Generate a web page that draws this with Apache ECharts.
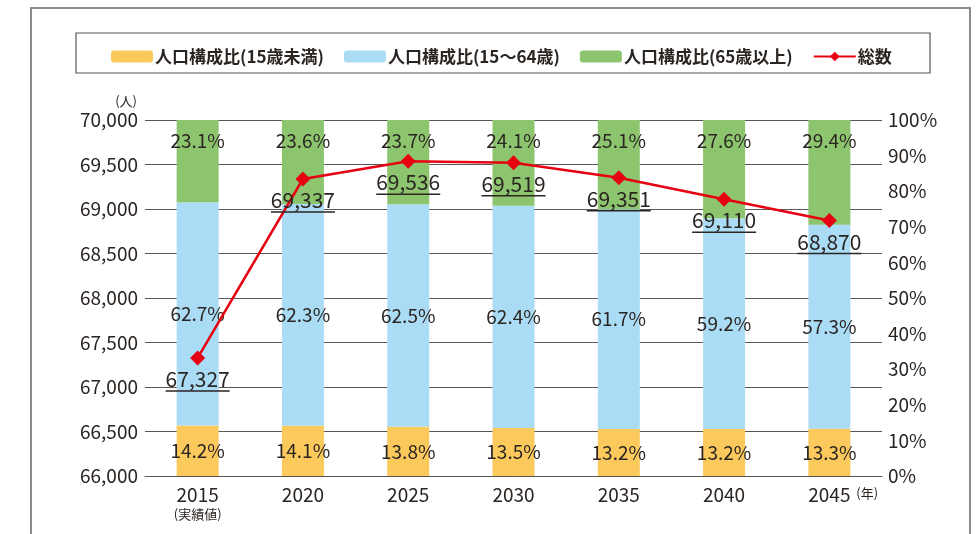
<!DOCTYPE html>
<html>
<head>
<meta charset="utf-8">
<script src="https://cdn.jsdelivr.net/npm/echarts@6/dist/echarts.min.js"></script>
<style>
  html, body { margin: 0; padding: 0; background: #fff; }
  #chart { width: 979px; height: 534px; }
</style>
</head>
<body>
<div id="chart"></div>
<script>
var years = ['2015', '2020', '2025', '2030', '2035', '2040', '2045'];
var under15 = [14.2, 14.1, 13.8, 13.5, 13.2, 13.2, 13.3];
var age15to64 = [62.7, 62.3, 62.5, 62.4, 61.7, 59.2, 57.3];
var over65 = [23.1, 23.6, 23.7, 24.1, 25.1, 27.6, 29.4];
var total = [67327, 69337, 69536, 69519, 69351, 69110, 68870];

var font = '"Noto Sans CJK JP", "Noto Sans", sans-serif';
var txt = '#2b2522';

function comma(v) {
    return String(v).replace(/\B(?=(\d{3})+(?!\d))/g, ',');
}

function pctLabel(pos, dist) {
    return {
        show: true,
        position: pos,
        distance: dist,
        fontFamily: font,
        fontSize: 19,
        color: txt,
        formatter: function (p) { return p.value.toFixed(1) + '%'; }
    };
}

var myChart = echarts.init(document.getElementById('chart'));
myChart.setOption({
    animation: false,
    textStyle: { fontFamily: font },
    graphic: [
        {
            type: 'polyline',
            shape: { points: [[31, 534], [31, 8], [970, 8], [970, 534]] },
            style: { stroke: '#8c8a8a', lineWidth: 2, fill: null }
        },
        {
            type: 'rect',
            shape: { x: 76, y: 33, width: 854, height: 40 },
            style: { stroke: '#555', lineWidth: 1.2, fill: null }
        }
    ],
    legend: {
        left: 106,
        top: 43,
        itemWidth: 42,
        itemHeight: 12,
        itemGap: 20,
        textStyle: { fontFamily: font, fontSize: 17, fontWeight: 'bold', color: txt, padding: [0, 0, 0, -3] },
        data: ['人口構成比(15歳未満)', '人口構成比(15～64歳)', '人口構成比(65歳以上)', '総数']
    },
    grid: { left: 145, right: 97, top: 120, bottom: 58 },
    xAxis: {
        type: 'category',
        data: years,
        name: '(年)',
        nameLocation: 'end',
        nameGap: -26,
        nameTextStyle: { fontSize: 13, color: txt, align: 'left', verticalAlign: 'top', padding: [11, 0, 0, 0] },
        axisLine: { lineStyle: { color: '#5a5757', width: 1 } },
        axisTick: { show: false },
        axisLabel: {
            interval: 0,
            margin: 9,
            fontSize: 19,
            color: txt,
            formatter: function (v) {
                return v === '2015' ? v + '\n{s|(実績値)}' : v;
            },
            rich: { s: { fontSize: 13, color: txt, lineHeight: 20 } }
        }
    },
    yAxis: [
        {
            type: 'value',
            min: 66000,
            max: 70000,
            interval: 500,
            name: '(人)',
            nameGap: 12,
            nameTextStyle: { fontSize: 13, color: txt, align: 'right', padding: [0, 8, 0, 0] },
            axisLine: { show: false },
            axisTick: { show: false },
            axisLabel: {
                margin: 7,
                fontSize: 19,
                color: txt,
                formatter: function (v) { return comma(v); }
            },
            splitLine: { lineStyle: { color: '#5a5757', width: 1 } }
        },
        {
            type: 'value',
            min: 0,
            max: 100,
            interval: 10,
            axisLine: { show: false },
            axisTick: { show: false },
            splitLine: { show: false },
            axisLabel: {
                margin: 6,
                fontSize: 19,
                color: txt,
                formatter: '{value}%'
            }
        }
    ],
    series: [
        {
            name: '人口構成比(15歳未満)',
            type: 'bar',
            stack: 'ratio',
            yAxisIndex: 1,
            barWidth: 42,
            itemStyle: { color: '#fcca5c' },
            label: pctLabel('inside'),
            data: under15
        },
        {
            name: '人口構成比(15～64歳)',
            type: 'bar',
            stack: 'ratio',
            yAxisIndex: 1,
            barWidth: 42,
            itemStyle: { color: '#abdcf5' },
            label: pctLabel('inside'),
            data: age15to64
        },
        {
            name: '人口構成比(65歳以上)',
            type: 'bar',
            stack: 'ratio',
            yAxisIndex: 1,
            barWidth: 42,
            itemStyle: { color: '#8cc56e' },
            label: pctLabel('insideTop', 11),
            data: over65
        },
        {
            name: '総数',
            type: 'line',
            yAxisIndex: 0,
            symbol: 'diamond',
            symbolSize: 15,
            lineStyle: { color: '#e60012', width: 2.5 },
            itemStyle: { color: '#e60012' },
            label: {
                show: true,
                position: 'bottom',
                distance: 3,
                formatter: function (p) { return '{n|' + comma(p.value) + '}\n{u|}'; },
                rich: {
                    n: { fontFamily: font, fontSize: 21, color: txt, lineHeight: 21 },
                    u: { width: 64, height: 1.5, lineHeight: 3, backgroundColor: '#2b2522' }
                }
            },
            z: 5,
            data: total
        }
    ]
});
</script>
</body>
</html>
